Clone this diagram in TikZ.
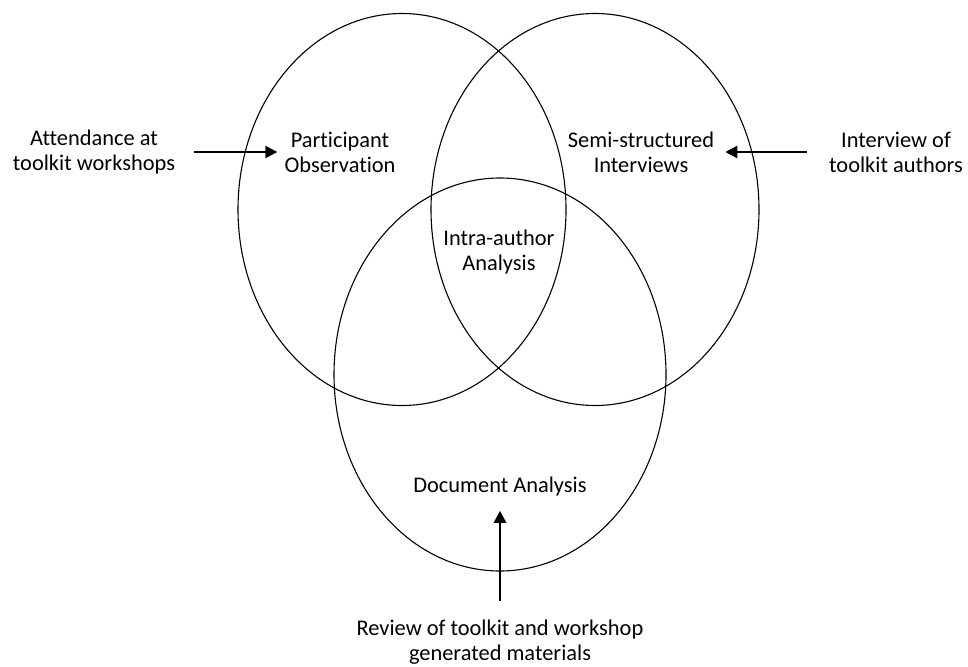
\documentclass[tikz,border=0pt]{standalone}
\usepackage{fontspec}
\setmainfont{Carlito}[Ligatures=NoCommon]
\usetikzlibrary{arrows.meta}

\begin{document}
\begin{tikzpicture}[x=1pt,y=-1pt,
  lbl/.style={align=center,inner sep=0pt,font=\fontsize{22.4}{25}\selectfont},
  feed/.style={line width=2.4pt,-{Triangle[length=12pt,width=12pt]}}]
\useasboundingbox (0,0) rectangle (968,666);

% Define centres of the three sets
\coordinate (obsc) at (402,209.5);
\coordinate (intc) at (595,209.5);
\coordinate (docc) at (500,374.5);
% Draw the three ellipses
\draw[line width=1.1pt] (obsc) ellipse [x radius=164pt, y radius=196pt];
\draw[line width=1.1pt] (intc) ellipse [x radius=164pt, y radius=196pt];
\draw[line width=1.1pt] (docc) ellipse [x radius=166pt, y radius=196.5pt];

% Add labels inside the sets
\node[lbl] (partobs) at (340,152) {Participant\\Observation};
\node[lbl] (semi) at (641,152) {Semi-structured\\Interviews};
\node[lbl] (intauth) at (499,252) {Intra-author\\Analysis};
\node[lbl] (docan) at (500,487) {Document Analysis};

% Add labels for the sources
\node[lbl] (attend) at (94,152) {Attendance at\\toolkit workshops};
\node[lbl] (interv) at (896,152) {Interview of\\toolkit authors};
\node[lbl] (review) at (500,642) {Review of toolkit and workshop\\generated materials};

% Draw the arrows
\draw[feed,shorten <=19pt,shorten >=7pt] (attend) -- (partobs);
\draw[feed,shorten <=22pt,shorten >=11pt] (interv) -- (semi);
\draw[feed,shorten <=19pt,shorten >=14pt] (review) -- (docan);

\end{tikzpicture}
\end{document}
